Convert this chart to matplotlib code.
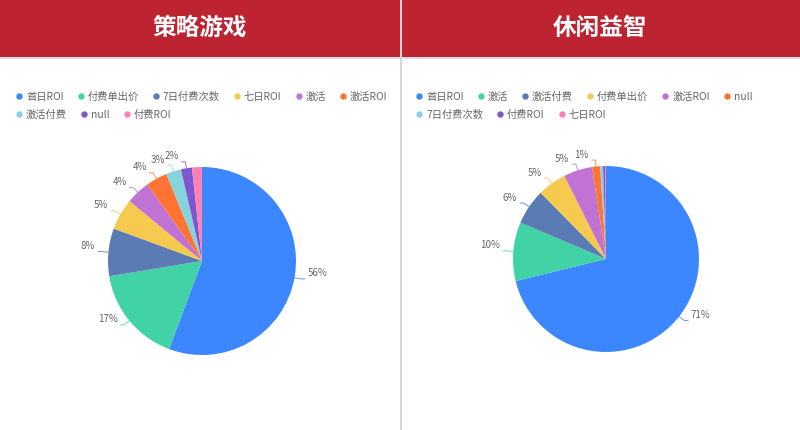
import matplotlib
matplotlib.use("Agg")
import matplotlib.pyplot as plt
import numpy as np
from matplotlib.patches import Rectangle

plt.rcParams["font.family"] = ["Noto Sans CJK SC", "DejaVu Sans"]

# --- data ---
left_title = "策略游戏"
left_cats = ["首日ROI", "付费单出价", "7日付费次数", "七日ROI", "激活", "激活ROI", "激活付费", "null", "付费ROI"]
left_vals = [55.7, 16.7, 8.2, 5.4, 4.1, 3.7, 2.6, 1.9, 1.7]

right_title = "休闲益智"
right_cats = ["首日ROI", "激活", "激活付费", "付费单出价", "激活ROI", "null", "7日付费次数", "付费ROI", "七日ROI"]
right_vals = [71.2, 10.2, 6.2, 5.0, 5.0, 1.4, 0.5, 0.4, 0.1]

PALETTE = ["#3C87FF", "#41D3A5", "#5A7BB4", "#F6C94F", "#C073D4",
           "#FF7433", "#87D3DB", "#7C57CE", "#FF80B5"]
HEADER = "#BE2332"
TEXT = "#666666"

W, H = 800, 431
fig = plt.figure(figsize=(W / 100, H / 100), dpi=100)
bg = fig.add_axes([0, 0, 1, 1])
bg.set_xlim(0, W)
bg.set_ylim(H, 0)
bg.axis("off")

# header band, separators
bg.add_patch(Rectangle((0, 0), W, 58, color=HEADER, lw=0))
bg.add_patch(Rectangle((0, 58), W, 2, color="#DCDCDC", lw=0))
bg.add_patch(Rectangle((400, 0), 2, H, color="#D6D6D6", lw=0, zorder=5))

renderer = fig.canvas.get_renderer()


def draw_legend(x0, y0, cats, right_limit):
    x, y = x0, y0
    for i, c in enumerate(cats):
        t = bg.text(0, 0, c, fontsize=7.4, color=TEXT, va="center", ha="left")
        tw = t.get_window_extent(renderer).width
        if x + 10 + tw > right_limit:
            x, y = x0, y + 18
        bg.plot(x + 3, y, "o", ms=4.6, color=PALETTE[i], mec="none")
        t.set_position((x + 10, y))
        x += 10 + tw + 14


def draw_panel(px, title, cats, vals, cx, cy, r):
    bg.text(px + 200, 28, title, fontsize=17, fontweight="bold", color="white",
            ha="center", va="center")
    draw_legend(px + 16, 97, cats, px + 392)

    S = 150
    ax = fig.add_axes([(cx - S) / W, 1 - (cy + S) / H, 2 * S / W, 2 * S / H])
    wedges, _ = ax.pie(vals, colors=PALETTE[:len(vals)], startangle=90,
                       counterclock=False, radius=1.0,
                       wedgeprops=dict(linewidth=0))
    ax.set_xlim(-S / r, S / r)
    ax.set_ylim(-S / r, S / r)
    ax.axis("off")

    total = sum(vals)
    shown = []
    for w, v, col in zip(wedges, vals, PALETTE):
        mid = np.deg2rad((w.theta1 + w.theta2) / 2)
        dx, dy = np.cos(mid), np.sin(mid)
        lx, ly = 1.17 * dx, 1.17 * dy
        # hide labels that would collide with one already placed
        if any(np.hypot((lx - sx) * r, (ly - sy) * r) < 15 for sx, sy in shown):
            continue
        shown.append((lx, ly))
        side = 1 if dx >= 0 else -1
        x1, y1 = 1.0 * dx, 1.0 * dy
        x2, y2 = 1.07 * dx, 1.07 * dy
        x3 = x2 + side * 0.04
        ax.plot([x1, x2, x3], [y1, y2, y2], color=col, lw=0.7, alpha=0.8,
                clip_on=False)
        ax.text(x3 + side * 0.03, y2 + 0.07, f"{v / total * 100:.0f}%",
                fontsize=7, color=TEXT, ha="left" if side > 0 else "right",
                va="center")


draw_panel(0, left_title, left_cats, left_vals, 202, 262, 94)
draw_panel(400, right_title, right_cats, right_vals, 606, 260, 93)

fig.savefig("out.png", dpi=100)
